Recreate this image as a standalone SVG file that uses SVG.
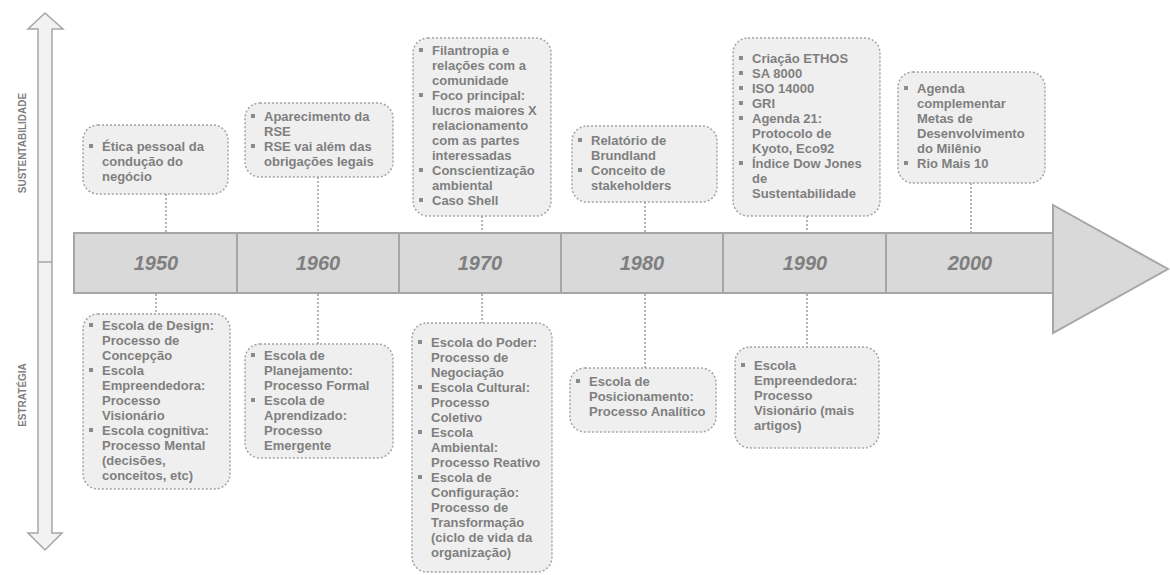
<svg xmlns="http://www.w3.org/2000/svg" width="1170" height="575" viewBox="0 0 1170 575">
<style>
  .box{fill:#efefef;stroke:#a3a3a3;stroke-width:1.5;stroke-dasharray:2 2}
  .t{font-family:"Liberation Sans",Arial,sans-serif;font-size:13px;font-weight:bold;fill:#7f7f7f}
  .b{fill:#8a8a8a}
  .yr{font-family:"Liberation Sans",Arial,sans-serif;font-size:20px;font-weight:bold;font-style:italic;fill:#7f7f7f;text-anchor:middle}
  .seg{fill:#d9d9d9;stroke:#a6a6a6;stroke-width:2}
  .con{stroke:#9a9a9a;stroke-width:1.5;stroke-dasharray:2 2;fill:none}
  .ax{font-family:"Liberation Sans",Arial,sans-serif;font-size:10px;font-weight:bold;fill:#7f7f7f;text-anchor:middle}
</style>
<rect width="1170" height="575" fill="#ffffff"/>

<g id="axis">
  <path d="M45,13 L63,29 L52,29 L52,533 L62,533 L45,550 L28,533 L38,533 L38,29 L28,29 Z" fill="#f2f2f2" stroke="#a6a6a6" stroke-width="1.5"/>
  <line x1="38" y1="262" x2="52" y2="262" stroke="#a6a6a6" stroke-width="1.5"/>
  <text class="ax" transform="translate(26,143) rotate(-90)">SUSTENTABILIDADE</text>
  <text class="ax" transform="translate(26,395) rotate(-90)">ESTRATÉGIA</text>
</g>

<g id="timeline">
  <rect class="seg" x="74" y="233" width="163" height="60"/>
  <rect class="seg" x="237" y="233" width="162" height="60"/>
  <rect class="seg" x="399" y="233" width="162" height="60"/>
  <rect class="seg" x="561" y="233" width="162" height="60"/>
  <rect class="seg" x="723" y="233" width="163" height="60"/>
  <rect class="seg" x="886" y="233" width="167" height="60"/>
  <path class="seg" d="M1053,205 L1168,269 L1053,333 Z"/>
  <text class="yr" x="156" y="270">1950</text>
  <text class="yr" x="318" y="270">1960</text>
  <text class="yr" x="480" y="270">1970</text>
  <text class="yr" x="642" y="270">1980</text>
  <text class="yr" x="805" y="270">1990</text>
  <text class="yr" x="970" y="270">2000</text>
</g>

<g id="connectors">
  <line class="con" x1="166" y1="194" x2="166" y2="233"/>
  <line class="con" x1="318" y1="177" x2="318" y2="233"/>
  <line class="con" x1="482" y1="216" x2="482" y2="233"/>
  <line class="con" x1="645" y1="202" x2="645" y2="233"/>
  <line class="con" x1="807" y1="216" x2="807" y2="233"/>
  <line class="con" x1="971" y1="183" x2="971" y2="233"/>
  <line class="con" x1="156" y1="294" x2="156" y2="314"/>
  <line class="con" x1="318" y1="294" x2="318" y2="344"/>
  <line class="con" x1="482" y1="294" x2="482" y2="323"/>
  <line class="con" x1="645" y1="294" x2="645" y2="368"/>
  <line class="con" x1="807" y1="294" x2="807" y2="347"/>
</g>

<g id="s1950">
  <rect class="box" x="83" y="125" width="145" height="69" rx="15"/>
  <rect class="b" x="89" y="144" width="4" height="4"/>
  <text class="t" x="102" y="151">Ética pessoal da</text>
  <text class="t" x="102" y="166">condução do</text>
  <text class="t" x="102" y="181">negócio</text>
</g>

<g id="s1960">
  <rect class="box" x="245" y="103" width="148" height="74" rx="15"/>
  <rect class="b" x="251" y="114" width="4" height="4"/>
  <text class="t" x="264" y="121">Aparecimento da</text>
  <text class="t" x="264" y="136">RSE</text>
  <rect class="b" x="251" y="144" width="4" height="4"/>
  <text class="t" x="264" y="151">RSE vai além das</text>
  <text class="t" x="264" y="166">obrigações legais</text>
</g>

<g id="s1970">
  <rect class="box" x="413" y="38" width="138" height="178" rx="15"/>
  <rect class="b" x="419" y="48" width="4" height="4"/>
  <text class="t" x="432" y="55">Filantropia e</text>
  <text class="t" x="432" y="70">relações com a</text>
  <text class="t" x="432" y="85">comunidade</text>
  <rect class="b" x="419" y="93" width="4" height="4"/>
  <text class="t" x="432" y="100">Foco principal:</text>
  <text class="t" x="432" y="115">lucros maiores X</text>
  <text class="t" x="432" y="130">relacionamento</text>
  <text class="t" x="432" y="145">com as partes</text>
  <text class="t" x="432" y="160">interessadas</text>
  <rect class="b" x="419" y="168" width="4" height="4"/>
  <text class="t" x="432" y="175">Conscientização</text>
  <text class="t" x="432" y="190">ambiental</text>
  <rect class="b" x="419" y="198" width="4" height="4"/>
  <text class="t" x="432" y="205">Caso Shell</text>
</g>

<g id="s1980">
  <rect class="box" x="572" y="126" width="145" height="76" rx="15"/>
  <rect class="b" x="578" y="138" width="4" height="4"/>
  <text class="t" x="591" y="145">Relatório de</text>
  <text class="t" x="591" y="160">Brundland</text>
  <rect class="b" x="578" y="168" width="4" height="4"/>
  <text class="t" x="591" y="175">Conceito de</text>
  <text class="t" x="591" y="190">stakeholders</text>
</g>

<g id="s1990">
  <rect class="box" x="733" y="38" width="147" height="178" rx="15"/>
  <rect class="b" x="739" y="56" width="4" height="4"/>
  <text class="t" x="752" y="63">Criação ETHOS</text>
  <rect class="b" x="739" y="71" width="4" height="4"/>
  <text class="t" x="752" y="78">SA 8000</text>
  <rect class="b" x="739" y="86" width="4" height="4"/>
  <text class="t" x="752" y="93">ISO 14000</text>
  <rect class="b" x="739" y="101" width="4" height="4"/>
  <text class="t" x="752" y="108">GRI</text>
  <rect class="b" x="739" y="116" width="4" height="4"/>
  <text class="t" x="752" y="123">Agenda 21:</text>
  <text class="t" x="752" y="138">Protocolo de</text>
  <text class="t" x="752" y="153">Kyoto, Eco92</text>
  <rect class="b" x="739" y="161" width="4" height="4"/>
  <text class="t" x="752" y="168">Índice Dow Jones</text>
  <text class="t" x="752" y="183">de</text>
  <text class="t" x="752" y="198">Sustentabilidade</text>
</g>

<g id="s2000">
  <rect class="box" x="898" y="72" width="147" height="111" rx="15"/>
  <rect class="b" x="904" y="86" width="4" height="4"/>
  <text class="t" x="917" y="93">Agenda</text>
  <text class="t" x="917" y="108">complementar</text>
  <text class="t" x="917" y="123">Metas de</text>
  <text class="t" x="917" y="138">Desenvolvimento</text>
  <text class="t" x="917" y="153">do Milênio</text>
  <rect class="b" x="904" y="161" width="4" height="4"/>
  <text class="t" x="917" y="168">Rio Mais 10</text>
</g>

<g id="e1950">
  <rect class="box" x="83" y="314" width="147" height="175" rx="15"/>
  <rect class="b" x="89" y="323" width="4" height="4"/>
  <text class="t" x="102" y="330">Escola de Design:</text>
  <text class="t" x="102" y="345">Processo de</text>
  <text class="t" x="102" y="360">Concepção</text>
  <rect class="b" x="89" y="368" width="4" height="4"/>
  <text class="t" x="102" y="375">Escola</text>
  <text class="t" x="102" y="390">Empreendedora:</text>
  <text class="t" x="102" y="405">Processo</text>
  <text class="t" x="102" y="420">Visionário</text>
  <rect class="b" x="89" y="428" width="4" height="4"/>
  <text class="t" x="102" y="435">Escola cognitiva:</text>
  <text class="t" x="102" y="450">Processo Mental</text>
  <text class="t" x="102" y="465">(decisões,</text>
  <text class="t" x="102" y="480">conceitos, etc)</text>
</g>

<g id="e1960">
  <rect class="box" x="245" y="344" width="148" height="114" rx="15"/>
  <rect class="b" x="251" y="353" width="4" height="4"/>
  <text class="t" x="264" y="360">Escola de</text>
  <text class="t" x="264" y="375">Planejamento:</text>
  <text class="t" x="264" y="390">Processo Formal</text>
  <rect class="b" x="251" y="398" width="4" height="4"/>
  <text class="t" x="264" y="405">Escola de</text>
  <text class="t" x="264" y="420">Aprendizado:</text>
  <text class="t" x="264" y="435">Processo</text>
  <text class="t" x="264" y="450">Emergente</text>
</g>

<g id="e1970">
  <rect class="box" x="412" y="323" width="140" height="249" rx="15"/>
  <rect class="b" x="418" y="340" width="4" height="4"/>
  <text class="t" x="431" y="347">Escola do Poder:</text>
  <text class="t" x="431" y="362">Processo de</text>
  <text class="t" x="431" y="377">Negociação</text>
  <rect class="b" x="418" y="385" width="4" height="4"/>
  <text class="t" x="431" y="392">Escola Cultural:</text>
  <text class="t" x="431" y="407">Processo</text>
  <text class="t" x="431" y="422">Coletivo</text>
  <rect class="b" x="418" y="430" width="4" height="4"/>
  <text class="t" x="431" y="437">Escola</text>
  <text class="t" x="431" y="452">Ambiental:</text>
  <text class="t" x="431" y="467">Processo Reativo</text>
  <rect class="b" x="418" y="475" width="4" height="4"/>
  <text class="t" x="431" y="482">Escola de</text>
  <text class="t" x="431" y="497">Configuração:</text>
  <text class="t" x="431" y="512">Processo de</text>
  <text class="t" x="431" y="527">Transformação</text>
  <text class="t" x="431" y="542">(ciclo de vida da</text>
  <text class="t" x="431" y="557">organização)</text>
</g>

<g id="e1980">
  <rect class="box" x="570" y="368" width="146" height="64" rx="15"/>
  <rect class="b" x="576" y="379" width="4" height="4"/>
  <text class="t" x="589" y="386">Escola de</text>
  <text class="t" x="589" y="401">Posicionamento:</text>
  <text class="t" x="589" y="416">Processo Analítico</text>
</g>

<g id="e1990">
  <rect class="box" x="735" y="347" width="144" height="101" rx="15"/>
  <rect class="b" x="741" y="363" width="4" height="4"/>
  <text class="t" x="754" y="370">Escola</text>
  <text class="t" x="754" y="385">Empreendedora:</text>
  <text class="t" x="754" y="400">Processo</text>
  <text class="t" x="754" y="415">Visionário (mais</text>
  <text class="t" x="754" y="430">artigos)</text>
</g>
</svg>
